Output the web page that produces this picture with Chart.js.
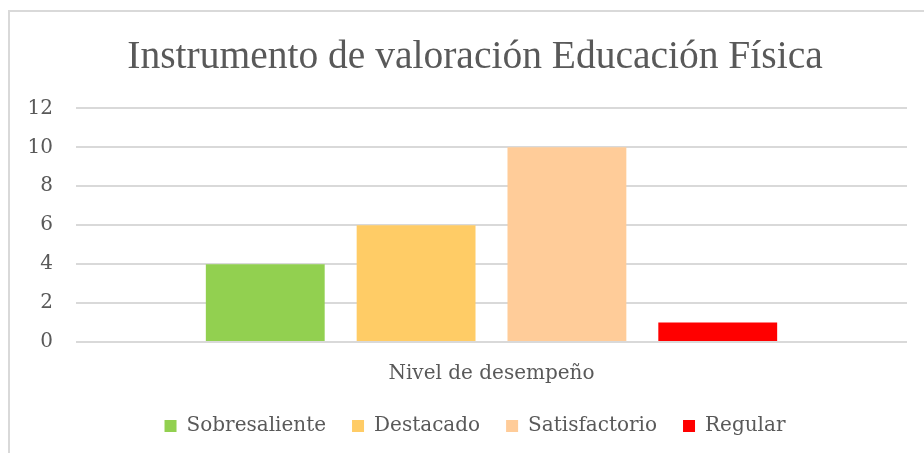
<!DOCTYPE html>
<html>
<head>
<meta charset="utf-8">
<script src="https://cdn.jsdelivr.net/npm/chart.js@4"></script>
<style>
  html, body { margin: 0; padding: 0; background: #fff; }
  #wrap { position: relative; width: 924px; height: 453px; overflow: hidden; }
  #frame { position: absolute; left: 8px; top: 10px; width: 1000px; height: 1000px;
           border-left: 2px solid #d9d9d9; border-top: 2px solid #d9d9d9; }
  canvas { position: absolute; left: 0; top: 0; }
</style>
</head>
<body>
<div id="wrap">
  <div id="frame"></div>
  <canvas id="chart" width="924" height="453"></canvas>
</div>
<script>
const categories = ["Nivel de desempeño"];
const seriesNames = ["Sobresaliente", "Destacado", "Satisfactorio", "Regular"];
const seriesValues = [[4], [6], [10], [1]];
const seriesColors = ["#92D050", "#FFCC66", "#FFCC99", "#FF0000"];
const yTicks = [0, 2, 4, 6, 8, 10, 12];

const titleFont = "'Liberation Serif', serif";
const bodyFont = "'DejaVu Serif', serif";
const textColor = "#595959";

const datasets = seriesNames.map((name, i) => ({
  label: name,
  data: seriesValues[i],
  backgroundColor: seriesColors[i],
  categoryPercentage: 0.726,
  barPercentage: 0.788
}));

// título y leyenda van centrados en el marco, no en el canvas
const shiftBlocks = {
  id: "shiftBlocks",
  afterLayout(chart) {
    [chart.titleBlock, chart.legend].forEach((b) => {
      if (b) { b.left += 16.5; b.right += 16.5; }
    });
  }
};

new Chart(document.getElementById("chart"), {
  type: "bar",
  data: { labels: categories, datasets },
  plugins: [shiftBlocks],
  options: {
    responsive: false,
    animation: false,
    layout: { padding: { left: 10, right: 17, bottom: 7 } },
    plugins: {
      title: {
        display: true,
        text: "Instrumento de valoración Educación Física",
        color: textColor,
        font: { family: titleFont, size: 39.5, weight: "normal", lineHeight: 1.2 },
        padding: { top: 34, bottom: 27 }
      },
      legend: {
        position: "bottom",
        labels: {
          color: textColor,
          font: { family: bodyFont, size: 20 },
          boxWidth: 12,
          boxHeight: 12,
          padding: 26
        }
      },
      tooltip: { enabled: false }
    },
    scales: {
      x: {
        afterFit: (scale) => { scale.height = 48; },
        grid: { display: false },
        border: { display: false },
        ticks: { color: textColor, font: { family: bodyFont, size: 20 }, padding: 12 }
      },
      y: {
        min: yTicks[0],
        max: yTicks[yTicks.length - 1],
        afterBuildTicks: (scale) => { scale.ticks = yTicks.map(v => ({ value: v })); },
        afterFit: (scale) => { scale.width = 66; },
        grid: { color: "#d9d9d9", lineWidth: 2, drawTicks: false },
        border: { display: false },
        ticks: { color: textColor, font: { family: bodyFont, size: 20 }, padding: 23 }
      }
    }
  }
});
</script>
</body>
</html>
